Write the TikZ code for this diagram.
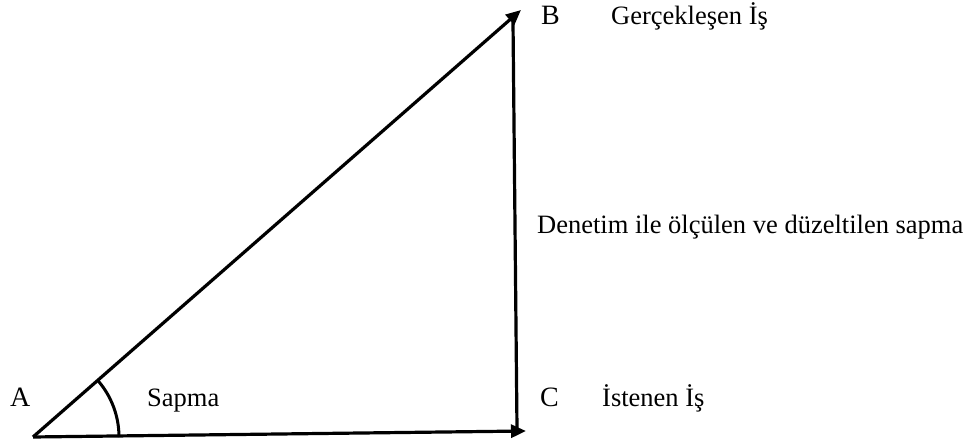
\documentclass[tikz,border=0pt]{standalone}
\usepackage{fontspec}
\setmainfont{Liberation Serif}
\usetikzlibrary{arrows.meta}
\begin{document}
\begin{tikzpicture}[x=1pt,y=1pt,
  lbl/.style={anchor=base west,inner sep=0pt,font=\fontsize{26.5}{30}\selectfont},
  letter/.style={anchor=base west,inner sep=0pt,font=\fontsize{28}{30}\selectfont},
  vec/.style={line width=3.2pt,-{Triangle[length=15pt,width=13pt]}},
  side/.style={line width=3.2pt},
  arcstyle/.style={line width=3pt}]
\useasboundingbox (0,0) rectangle (971,446);
\coordinate (A) at (33,9);
\coordinate (B) at (521,436);
\coordinate (C) at (526,15);
\coordinate (Btop) at (513,424);
\coordinate (Cbot) at (517,17);
\draw[vec] (A) -- (B);
\draw[vec] (A) -- (C);
\draw[side] (Btop) -- (Cbot);
\draw[arcstyle] ([shift={(0:86)}]A) arc[start angle=0,end angle=41.5,radius=86];
\node[letter] (lA) at (10,39) {A};
\node[letter] (lB) at (541,421) {B};
\node[letter] (lC) at (540,39) {C};
\node[lbl] (tB) at (611,421) {Gerçekleşen İş};
\node[lbl] (tC) at (602,39) {İstenen İş};
\node[lbl] (tS) at (147,39) {Sapma};
\node[lbl] (tD) at (537,212) {Denetim ile ölçülen ve düzeltilen sapma};
\end{tikzpicture}
\end{document}
